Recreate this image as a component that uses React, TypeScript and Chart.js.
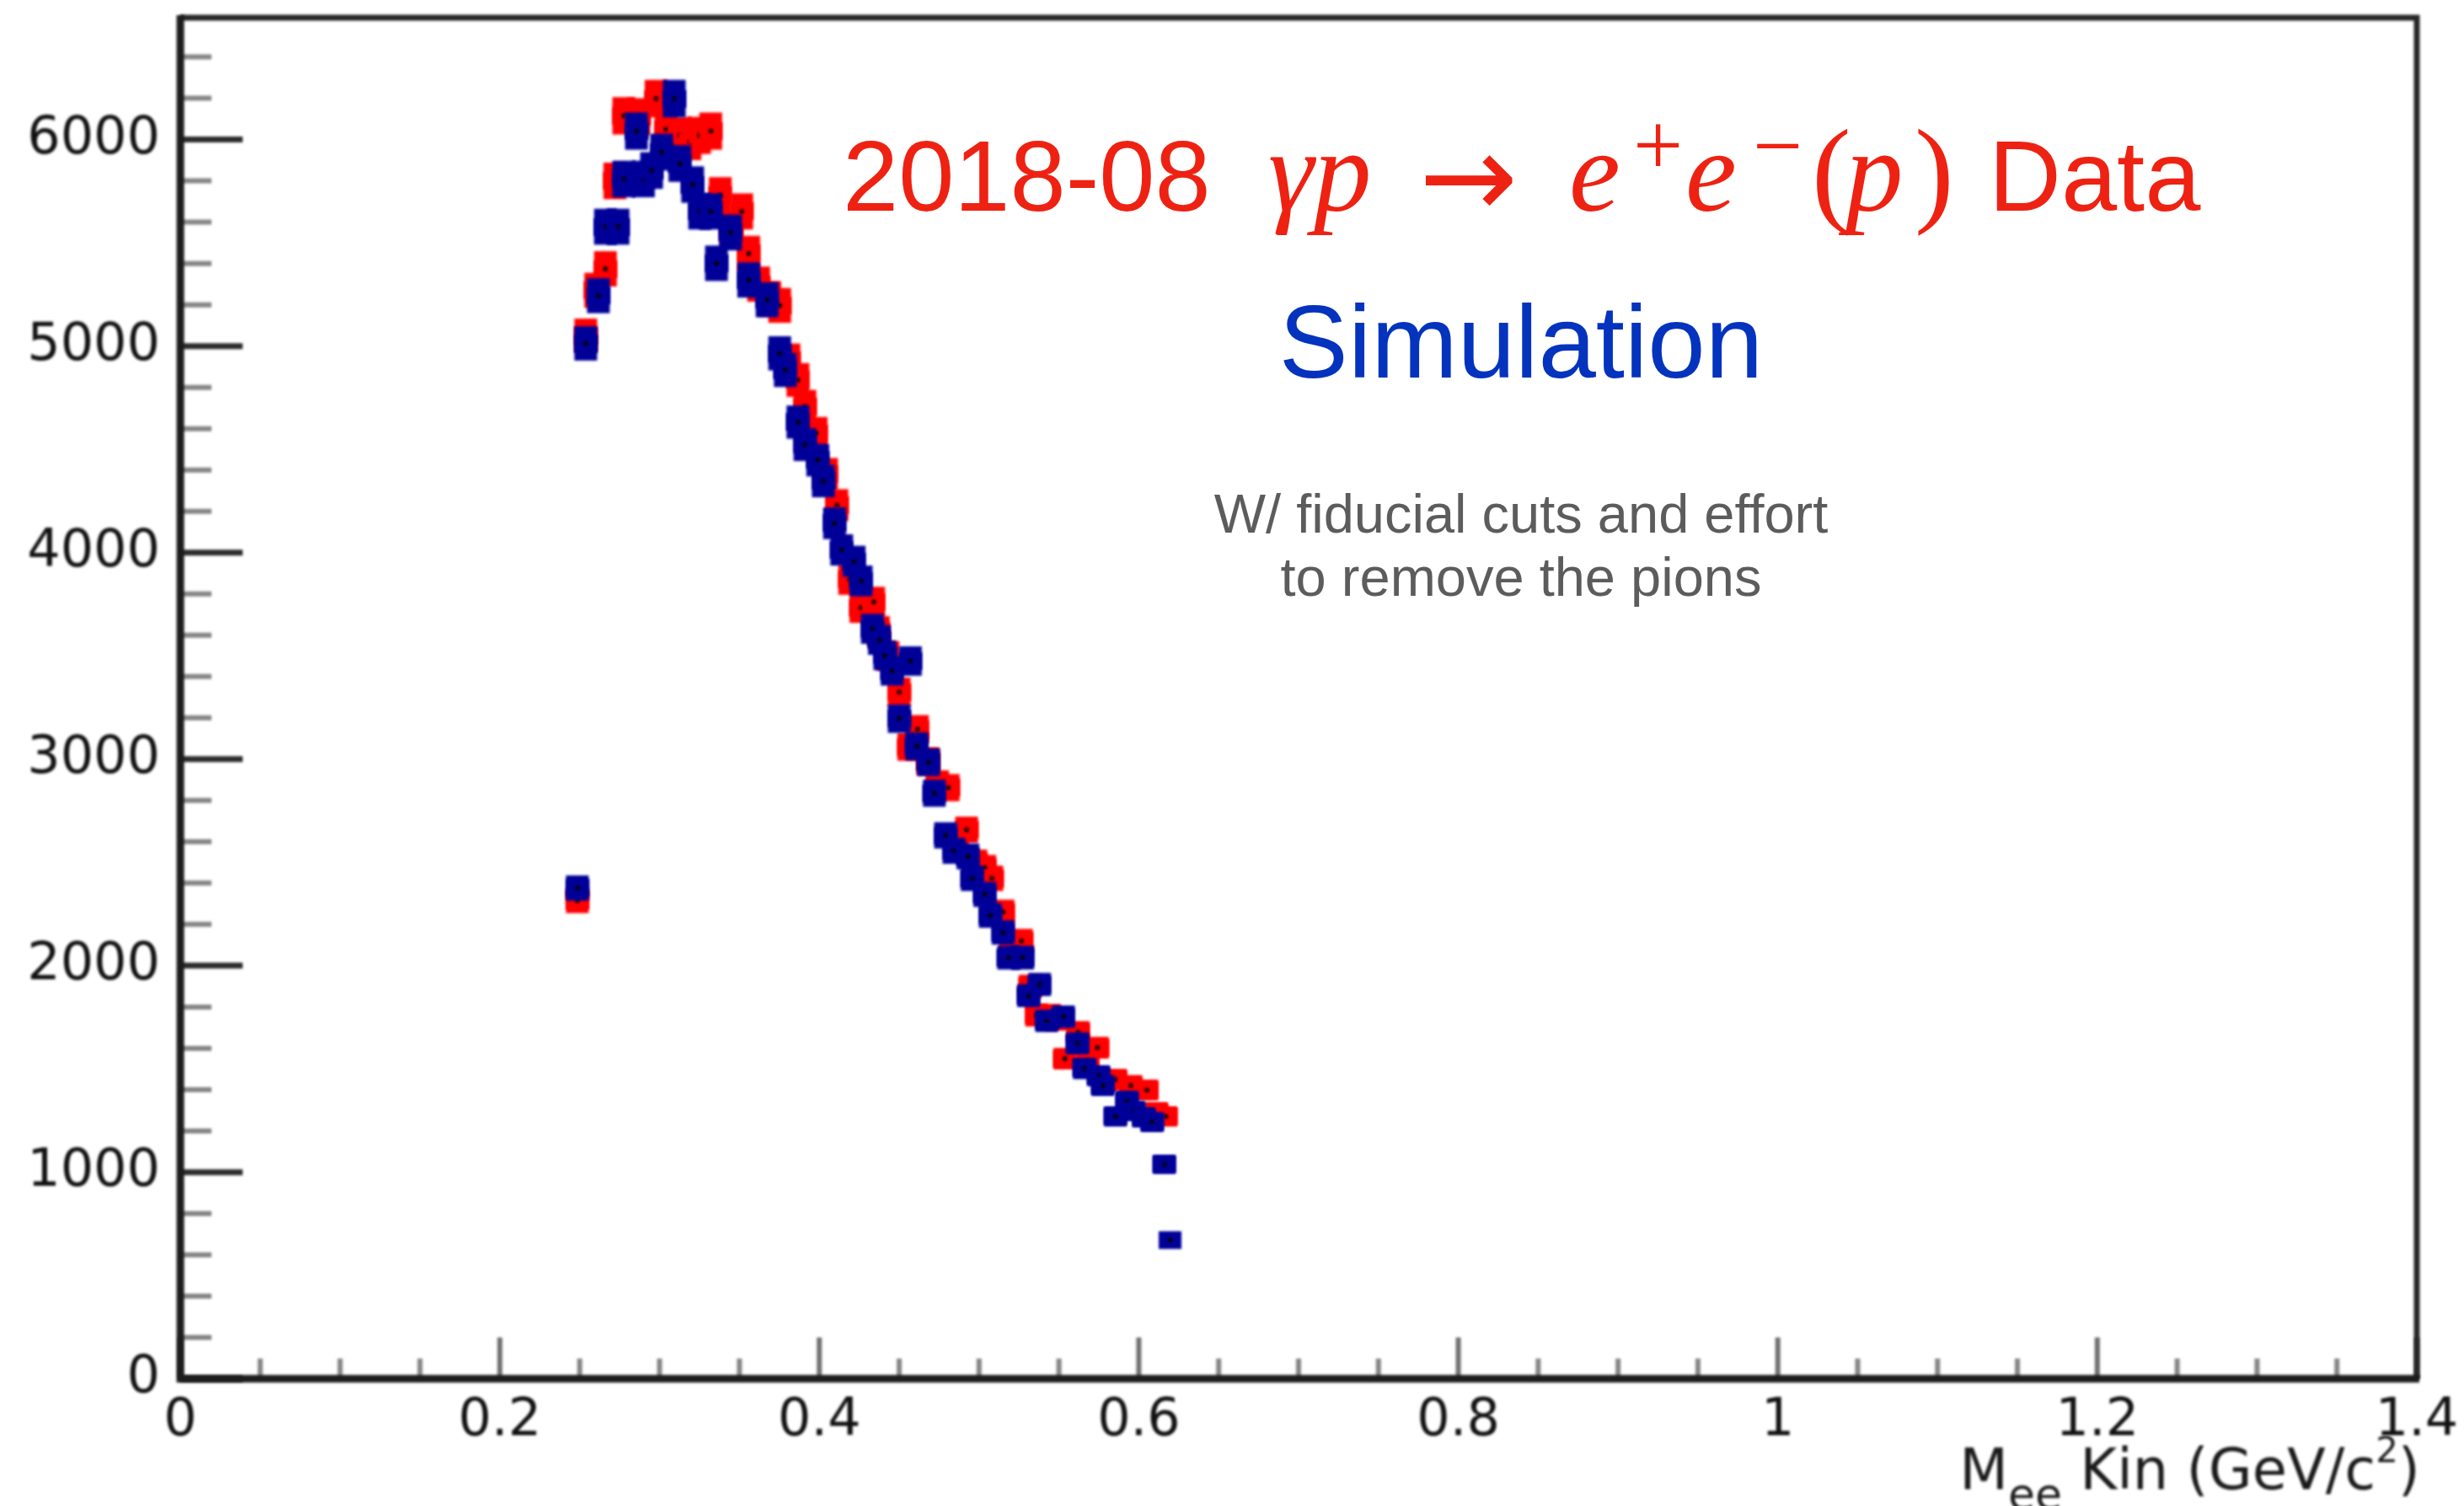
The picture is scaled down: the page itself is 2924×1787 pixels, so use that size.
import React, { useEffect, useRef } from 'react';
import { Chart, registerables } from 'chart.js';

Chart.register(...registerables);

// Simulated e+e- invariant mass spectrum (GeV/c^2) and counts
const simMass = [0.2485, 0.2538, 0.2617, 0.2661, 0.274, 0.2776, 0.2855, 0.2899, 0.295, 0.3013, 0.3092, 0.3127, 0.3207, 0.3251, 0.332, 0.3356, 0.3444, 0.3558, 0.3673, 0.3752, 0.3787, 0.3866, 0.391, 0.399, 0.4025, 0.4095, 0.414, 0.4218, 0.4262, 0.4332, 0.4376, 0.441, 0.4455, 0.45, 0.457, 0.461, 0.4684, 0.472, 0.479, 0.4843, 0.493, 0.4957, 0.5036, 0.507, 0.515, 0.5185, 0.5273, 0.531, 0.5379, 0.5423, 0.5528, 0.5616, 0.566, 0.5748, 0.5775, 0.5854, 0.5925, 0.5968, 0.603, 0.6083, 0.616, 0.6196];
const simCounts = [2376, 5013, 5244, 5578, 5578, 5809, 6041, 5809, 5850, 5939, 6198, 5884, 5782, 5652, 5652, 5401, 5550, 5320, 5224, 4965, 4884, 4632, 4523, 4448, 4346, 4142, 4013, 3958, 3863, 3631, 3577, 3502, 3427, 3196, 3475, 3062, 2985, 2835, 2631, 2556, 2529, 2423, 2345, 2243, 2161, 2039, 2039, 1855, 1909, 1733, 1753, 1624, 1502, 1467, 1420, 1270, 1345, 1297, 1265, 1243, 1038, 671];

// 2018-08 data, gamma p -> e+ e- (p)
const dataMass = [0.2485, 0.2538, 0.26, 0.2661, 0.272, 0.2776, 0.287, 0.2978, 0.304, 0.3127, 0.319, 0.325, 0.332, 0.338, 0.345, 0.3514, 0.3558, 0.362, 0.369, 0.3752, 0.381, 0.3866, 0.391, 0.398, 0.4045, 0.411, 0.419, 0.426, 0.434, 0.437, 0.443, 0.45, 0.456, 0.4614, 0.468, 0.474, 0.4807, 0.486, 0.4922, 0.498, 0.5036, 0.508, 0.515, 0.52, 0.5265, 0.532, 0.536, 0.544, 0.549, 0.5537, 0.562, 0.568, 0.574, 0.579, 0.5854, 0.595, 0.605, 0.611, 0.617];
const dataCounts = [2315, 5050, 5270, 5374, 5800, 6115, 6110, 6198, 6050, 6020, 5990, 6020, 6041, 5730, 5570, 5652, 5448, 5300, 5230, 5197, 4930, 4836, 4707, 4577, 4380, 4230, 3870, 3733, 3761, 3620, 3500, 3325, 3060, 3145, 2990, 2880, 2862, 2600, 2658, 2500, 2474, 2423, 2260, 2080, 2120, 1900, 1760, 1760, 1740, 1550, 1678, 1540, 1603, 1440, 1449, 1420, 1398, 1290, 1270];

const xTickValues = [0, 0.2, 0.4, 0.6, 0.8, 1.0, 1.2, 1.4];
const xTickLabels = ['0', '0.2', '0.4', '0.6', '0.8', '1', '1.2', '1.4'];
const yTickValues = [0, 1000, 2000, 3000, 4000, 5000, 6000];
const yTickLabels = ['0', '1000', '2000', '3000', '4000', '5000', '6000'];

const W = 2924;
const H = 1787;
const X_MAX = 1.4;
const Y_MAX = 6590;
const X_MINOR = 0.05;
const Y_MINOR = 200;

const SANS = '"Liberation Sans", Arial, Helvetica, sans-serif';
const SERIF = '"Liberation Serif", "Times New Roman", serif';
const AXIS_FONT = '"DejaVu Sans", Verdana, sans-serif';

const DATA_RED = '#ff0000';
const SIM_BLUE = '#000099';

function makeMarker(color: string): HTMLCanvasElement {
  const c = document.createElement('canvas');
  c.width = 27;
  c.height = 21;
  const g = c.getContext('2d')!;
  g.fillStyle = color;
  g.fillRect(0, 0, 27, 21);
  g.fillStyle = '#000';
  g.fillRect(11, 8, 5, 5);
  return c;
}

// Poisson error boxes drawn under each dataset's markers
const errorBoxes = {
  id: 'errorBoxes',
  beforeDatasetDraw(chart: any, args: any) {
    const ds = chart.data.datasets[args.index];
    const yScale = chart.scales.y;
    const ctx = chart.ctx;
    ctx.save();
    ctx.fillStyle = ds.boxColor;
    args.meta.data.forEach((pt: any, i: number) => {
      const v = ds.data[i].y;
      const s = Math.sqrt(v);
      const top = yScale.getPixelForValue(v + s) - 3;
      const bot = yScale.getPixelForValue(v - s) + 3;
      if (bot - top > 21) ctx.fillRect(pt.x - 13.5, top, 27, bot - top);
    });
    ctx.restore();
  },
};

// Soft rendering of the histogram frame, plus the inner ticks
const frameAndTicks = {
  id: 'frameAndTicks',
  beforeDraw(chart: any) {
    chart.ctx.filter = 'blur(1.5px)';
  },
  beforeDatasetsDraw(chart: any) {
    const { ctx, chartArea: a, scales } = chart;
    const xs = scales.x;
    const ys = scales.y;
    ctx.save();
    ctx.lineCap = 'butt';
    for (let i = 0; i * Y_MINOR <= Y_MAX; i++) {
      const v = i * Y_MINOR;
      const major = i % 5 === 0;
      const py = ys.getPixelForValue(v);
      ctx.strokeStyle = major ? '#2b2b2b' : '#858585';
      ctx.lineWidth = major ? 7 : 6;
      ctx.beginPath();
      ctx.moveTo(a.left, py);
      ctx.lineTo(a.left + (major ? 74 : 37), py);
      ctx.stroke();
    }
    for (let i = 0; i * X_MINOR <= X_MAX + 1e-9; i++) {
      const major = i % 4 === 0;
      const px = xs.getPixelForValue(i * X_MINOR);
      ctx.strokeStyle = major ? '#707070' : '#858585';
      ctx.lineWidth = 6;
      ctx.beginPath();
      ctx.moveTo(px, a.bottom);
      ctx.lineTo(px, a.bottom - (major ? 49 : 24));
      ctx.stroke();
    }
    ctx.strokeStyle = '#262626';
    ctx.lineWidth = 7;
    ctx.beginPath();
    ctx.moveTo(a.left, a.top);
    ctx.lineTo(a.right, a.top);
    ctx.lineTo(a.right, a.bottom);
    ctx.stroke();
    ctx.strokeStyle = '#1c1c1c';
    ctx.lineWidth = 9;
    ctx.beginPath();
    ctx.moveTo(a.left, a.top - 3);
    ctx.lineTo(a.left, a.bottom);
    ctx.lineTo(a.right + 3, a.bottom);
    ctx.stroke();
    ctx.restore();
  },
  afterDraw(chart: any) {
    const ctx = chart.ctx;
    ctx.save();
    // x-axis title: M_ee Kin (GeV/c^2), right aligned
    ctx.fillStyle = '#1a1a1a';
    ctx.textBaseline = 'alphabetic';
    ctx.textAlign = 'left';
    const base = 1767;
    const parts = [
      { t: 'M', f: `67px ${AXIS_FONT}`, dy: 0 },
      { t: 'ee', f: `52px ${AXIS_FONT}`, dy: 24 },
      { t: ' Kin (GeV/c', f: `67px ${AXIS_FONT}`, dy: 0 },
      { t: '2', f: `42px ${AXIS_FONT}`, dy: -32 },
      { t: ')', f: `67px ${AXIS_FONT}`, dy: 0 },
    ];
    let total = 0;
    const widths = parts.map((p) => {
      ctx.font = p.f;
      const w = ctx.measureText(p.t).width;
      total += w;
      return w;
    });
    let x = 2872 - total;
    parts.forEach((p, i) => {
      ctx.font = p.f;
      ctx.fillText(p.t, x, base + p.dy);
      x += widths[i];
    });
    ctx.restore();

    // crisp annotation text on top of the plot
    ctx.save();
    ctx.filter = 'none';
    ctx.textBaseline = 'alphabetic';
    ctx.textAlign = 'left';
    ctx.fillStyle = '#ee2212';
    const title = [
      { t: '2018-08', f: `119px ${SANS}`, x: 1000, y: 250 },
      { t: 'γp', f: `italic 137px ${SERIF}`, x: 1505, y: 250 },
      { t: '→', f: `140px ${AXIS_FONT}`, x: 1684, y: 258 },
      { t: 'e', f: `italic 137px ${SERIF}`, x: 1862, y: 250 },
      { t: '+', f: `105px ${SERIF}`, x: 1938, y: 208 },
      { t: 'e', f: `italic 137px ${SERIF}`, x: 2000, y: 250 },
      { t: '−', f: `105px ${SERIF}`, x: 2080, y: 208 },
      { t: '(', f: `140px ${SERIF}`, x: 2150, y: 250 },
      { t: 'p', f: `italic 137px ${SERIF}`, x: 2190, y: 250 },
      { t: ')', f: `140px ${SERIF}`, x: 2272, y: 250 },
      { t: 'Data', f: `119px ${SANS}`, x: 2360, y: 250 },
    ];
    title.forEach((p) => {
      ctx.font = p.f;
      ctx.fillText(p.t, p.x, p.y);
    });
    ctx.textAlign = 'center';
    ctx.fillStyle = '#0433be';
    ctx.font = `123px ${SANS}`;
    ctx.fillText('Simulation', 1805, 448);
    ctx.fillStyle = '#5c5c5c';
    ctx.font = `65px ${SANS}`;
    ctx.fillText('W/ fiducial cuts and effort', 1805, 632);
    ctx.fillText('to remove the pions', 1805, 707);
    ctx.restore();
  },
};

export default function App() {
  const ref = useRef<HTMLCanvasElement>(null);

  useEffect(() => {
    const canvas = ref.current!;
    const chart = new Chart(canvas, {
      type: 'scatter',
      data: {
        datasets: [
          {
            label: 'Simulation',
            data: simMass.map((m, i) => ({ x: m, y: simCounts[i] })),
            pointStyle: makeMarker(SIM_BLUE),
            pointRadius: 10,
            boxColor: SIM_BLUE,
          } as any,
          {
            label: '2018-08 Data',
            data: dataMass.map((m, i) => ({ x: m, y: dataCounts[i] })),
            pointStyle: makeMarker(DATA_RED),
            pointRadius: 10,
            boxColor: DATA_RED,
          } as any,
        ],
      },
      options: {
        responsive: false,
        animation: false,
        devicePixelRatio: 1,
        events: [],
        layout: { autoPadding: false, padding: { top: 21, right: 56, bottom: 0, left: 0 } },
        plugins: { legend: { display: false }, tooltip: { enabled: false } },
        scales: {
          x: {
            type: 'linear',
            position: 'bottom',
            min: 0,
            max: X_MAX,
            afterBuildTicks: (s: any) => {
              s.ticks = xTickValues.map((v) => ({ value: v }));
            },
            afterFit: (s: any) => {
              s.height = 151;
              s.paddingLeft = 0;
              s.paddingRight = 0;
              s.paddingTop = 0;
              s.paddingBottom = 0;
            },
            ticks: {
              callback: (_v: any, i: number) => xTickLabels[i],
              font: { family: AXIS_FONT, size: 62 },
              color: '#111111',
              padding: 14,
              maxRotation: 0,
              autoSkip: false,
            },
            grid: { display: false, drawTicks: false, tickLength: 0 },
            border: { display: false },
          },
          y: {
            type: 'linear',
            position: 'left',
            min: 0,
            max: Y_MAX,
            afterBuildTicks: (s: any) => {
              s.ticks = yTickValues.map((v) => ({ value: v }));
            },
            afterFit: (s: any) => {
              s.width = 214;
              s.paddingLeft = 0;
              s.paddingRight = 0;
              s.paddingTop = 0;
              s.paddingBottom = 0;
            },
            ticks: {
              callback: (_v: any, i: number) => yTickLabels[i],
              font: { family: AXIS_FONT, size: 62 },
              color: '#111111',
              padding: 24,
              autoSkip: false,
            },
            grid: { display: false, drawTicks: false, tickLength: 0 },
            border: { display: false },
          },
        },
      },
      plugins: [errorBoxes, frameAndTicks],
    } as any);
    return () => chart.destroy();
  }, []);

  return (
    <div style={{ position: 'absolute', left: 0, top: 0, width: W, height: H, background: '#fff' }}>
      <canvas ref={ref} width={W} height={H} style={{ display: 'block', width: W, height: H }} />
    </div>
  );
}
